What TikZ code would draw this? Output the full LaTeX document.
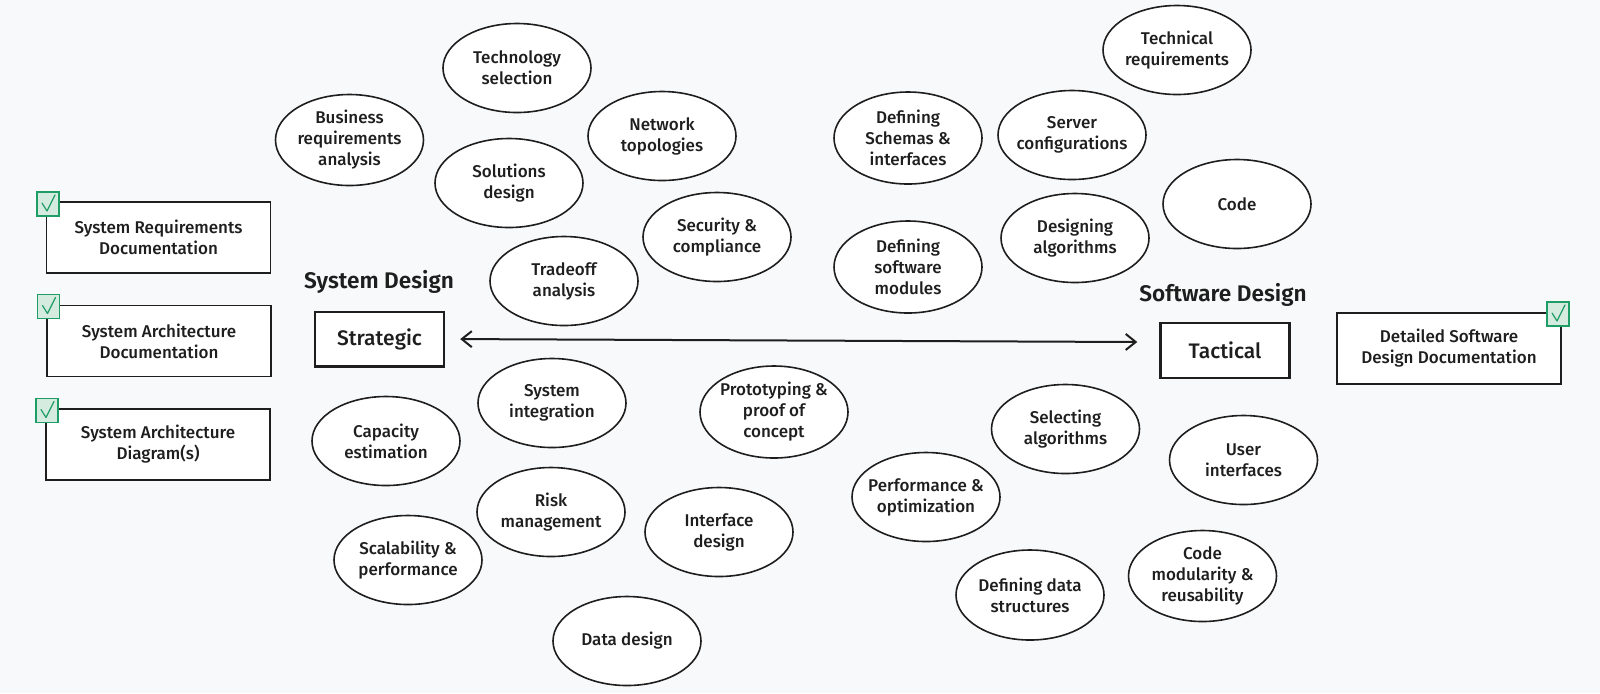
\documentclass[tikz,border=0pt]{standalone}
\usepackage{fontspec}
\setmainfont{Fira Sans}[UprightFont={* Medium}, BoldFont={* SemiBold}]
\usetikzlibrary{shapes.geometric,arrows.meta}
\definecolor{bgc}{HTML}{F8F9FA}
\definecolor{ink}{HTML}{1E1E1E}
\definecolor{chkfill}{HTML}{D5EBE0}
\definecolor{chkline}{HTML}{1F9D66}
\tikzset{
  bubble/.style={ellipse, draw=ink, line width=0.8pt, fill=white, inner xsep=-6pt, inner ysep=-3pt,
    minimum width=74pt, minimum height=44.5pt, align=center, text=ink,
    font=\fontsize{8.5}{10.5}\selectfont},
  docbox/.style={rectangle, draw=ink, line width=0.75pt, fill=white, inner sep=0pt,
    minimum width=112pt, minimum height=35.5pt, align=center, text=ink,
    font=\fontsize{8.5}{10.5}\selectfont},
  levelbox/.style={rectangle, draw=ink, line width=1.2pt, fill=white, inner sep=0pt,
    minimum width=64.5pt, minimum height=27.3pt, align=center, text=ink,
    font=\fontsize{10.5}{12}\selectfont},
  headline/.style={text=ink, inner sep=0pt, font=\fontsize{11.3}{13}\selectfont\bfseries},
  chkbox/.style={rectangle, draw=chkline, line width=0.7pt, fill=chkfill, inner sep=0pt,
    minimum width=11pt, minimum height=12pt},
  chkmark/.style={draw=chkline, line width=0.6pt, line cap=round, line join=round},
  link/.style={draw=ink, line width=1pt, {Straight Barb[length=5pt,width=8pt]}-{Straight Barb[length=5pt,width=8pt]}}
}
\begin{document}
\begin{tikzpicture}[x=0.5pt,y=-0.5pt]
\fill[bgc] (0,0) rectangle (1600,693);
\useasboundingbox (0,0) rectangle (1600,693);

% System design bubbles
\node[bubble] (techsel) at (517,68) {Technology\\selection};
\node[bubble, minimum height=45.5pt] (busreq) at (349.5,140) {Business\\requirements\\analysis};
\node[bubble] (nettop) at (662,136) {Network\\topologies};
\node[bubble] (soldes) at (509,183) {Solutions\\design};
\node[bubble] (secur) at (717,237) {Security \&\\compliance};
\node[bubble] (trade) at (564,281) {Tradeoff\\analysis};
\node[bubble] (sysint) at (552,403) {System\\integration};
\node[bubble] (capac) at (386,441) {Capacity\\estimation};
\node[bubble, minimum height=46pt] (proto) at (774,412) {Prototyping \&\\proof of\\concept};
\node[bubble] (risk) at (551,512) {Risk\\management};
\node[bubble] (ifdes) at (719,532) {Interface\\design};
\node[bubble] (scal) at (408,560) {Scalability \&\\performance};
\node[bubble] (datades) at (627,641) {Data design};

% Software design bubbles
\node[bubble] (techreq) at (1177,50) {Technical\\requirements};
\node[bubble, minimum height=46pt] (schemas) at (908,138) {Defining\\Schemas \&\\interfaces};
\node[bubble] (server) at (1072,135) {Server\\configurations};
\node[bubble] (code) at (1237,204) {Code};
\node[bubble] (desalg) at (1075,238) {Designing\\algorithms};
\node[bubble, minimum height=46pt] (modules) at (908,267) {Defining\\software\\modules};
\node[bubble] (selalg) at (1065.5,429) {Selecting\\algorithms};
\node[bubble] (userif) at (1243.5,460) {User\\interfaces};
\node[bubble] (perf) at (926,497) {Performance \&\\optimization};
\node[bubble, minimum height=45pt] (datastr) at (1030,595) {Defining data\\structures};
\node[bubble, minimum height=45.5pt] (modular) at (1202.5,576) {Code\\modularity \&\\reusability};

% Headlines and level boxes
\node[headline] (sdtitle) at (379,282) {System Design};
\node[headline] (swtitle) at (1223,295) {Software Design};
\node[levelbox] (strat) at (379.5,339) {Strategic};
\node[levelbox] (tact) at (1225,350.5) {Tactical};
\draw[link, shorten <=7.5pt, shorten >=11pt] (strat.east) -- ([yshift=4.2pt]tact.west);

% Documentation boxes
\node[docbox] (reqdoc) at (158.5,237.5) {System Requirements\\Documentation};
\node[docbox] (archdoc) at (159,341) {System Architecture\\Documentation};
\node[docbox] (archdiag) at (158,444.5) {System Architecture\\Diagram(s)};
\node[docbox] (swdoc) at (1449,348.5) {Detailed Software\\Design Documentation};

% Check boxes
\node[chkbox] (c1) at (48,204) {};
\node[chkbox] (c2) at (48.5,306.5) {};
\node[chkbox] (c3) at (47,410.5) {};
\node[chkbox] (c4) at (1558,314) {};
\foreach \c in {c1,c2,c3,c4}{
  \draw[chkmark] ([shift={(-6,-1)}]\c.center) -- ++(5,8) -- ++(8,-16);
}
\end{tikzpicture}
\end{document}
